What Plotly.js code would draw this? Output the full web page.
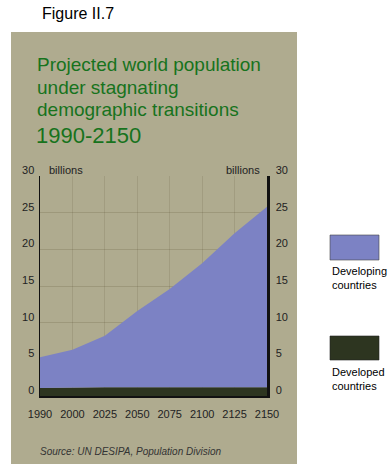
<!DOCTYPE html>
<html>
<head>
<meta charset="utf-8">
<script src="https://cdn.plot.ly/plotly-3.0.1.min.js"></script>
<style>html,body{margin:0;padding:0;background:#fff;}#chart{width:391px;height:473px;}</style>
</head>
<body>
<div id="chart"></div>
<script>
// ---- data ----
const years = ['1990', '2000', '2025', '2050', '2075', '2100', '2125', '2150'];
const developed = [1.1, 1.2, 1.2, 1.2, 1.2, 1.2, 1.2, 1.2];           // billions
const developing = [4.2, 5.1, 7.0, 10.4, 13.4, 16.9, 21.0, 24.6];     // billions
const yTicks = [0, 5, 10, 15, 20, 25, 30];
const seriesNames = ['Developing<br>countries', 'Developed<br>countries'];
const titleLines = ['Projected world population', 'under stagnating', 'demographic transitions'];
const titleYears = '1990-2150';

// ---- layout helpers ----
const W = 391, H = 473;
const L = 40, R = 267, T = 176, B = 396;
const px = x => (x - L) / (R - L);
const py = y => (B - y) / (B - T);

const FONT = 'Liberation Sans, Arial, Helvetica, sans-serif';
const PANEL = '#afab8f';
const BLUE = '#7c82c4';
const DARK = '#2d3520';
const GREEN = '#17731d';

const traces = [
  { x: years, y: developed, type: 'scatter', mode: 'lines', stackgroup: 'pop',
    line: { width: 0 }, fillcolor: DARK, name: 'Developed countries', hoverinfo: 'skip' },
  { x: years, y: developing, type: 'scatter', mode: 'lines', stackgroup: 'pop',
    line: { width: 0 }, fillcolor: BLUE, name: 'Developing countries', hoverinfo: 'skip' },
  { x: years, y: developed, type: 'scatter', mode: 'lines', yaxis: 'y2',
    line: { width: 0 }, opacity: 0, hoverinfo: 'skip', showlegend: false }
];

const tickFont = { family: FONT, size: 11, color: '#222' };

const annotations = [
  { text: 'Figure II.7', x: px(40), y: py(13), xanchor: 'left', yanchor: 'middle',
    font: { family: FONT, size: 16, color: '#000' } },
  { text: titleLines[0], x: px(35), y: py(65), xanchor: 'left', yanchor: 'middle',
    font: { family: FONT, size: 19, color: GREEN } },
  { text: titleLines[1], x: px(35), y: py(87), xanchor: 'left', yanchor: 'middle',
    font: { family: FONT, size: 19, color: GREEN } },
  { text: titleLines[2], x: px(35), y: py(109), xanchor: 'left', yanchor: 'middle',
    font: { family: FONT, size: 19, color: GREEN } },
  { text: titleYears, x: px(34), y: py(135), xanchor: 'left', yanchor: 'middle',
    font: { family: FONT, size: 22, color: GREEN } },
  { text: 'billions', x: px(47), y: py(170), xanchor: 'left', yanchor: 'middle',
    font: tickFont },
  { text: 'billions', x: px(262), y: py(170), xanchor: 'right', yanchor: 'middle',
    font: tickFont },
  { text: seriesNames[0], x: px(330), y: py(263), xanchor: 'left', yanchor: 'top', align: 'left',
    font: { family: FONT, size: 11, color: '#000' } },
  { text: seriesNames[1], x: px(330), y: py(364), xanchor: 'left', yanchor: 'top', align: 'left',
    font: { family: FONT, size: 11, color: '#000' } },
  { text: '<i>Source: UN DESIPA, Population Division</i>', x: px(38), y: py(452), xanchor: 'left', yanchor: 'middle',
    font: { family: FONT, size: 10, color: '#333' } }
].map(a => Object.assign({ xref: 'paper', yref: 'paper', showarrow: false }, a));

const shapes = [
  { type: 'rect', xref: 'paper', yref: 'paper', layer: 'below',
    x0: px(11), x1: px(297), y0: py(464), y1: py(32),
    fillcolor: PANEL, line: { width: 0 } },
  { type: 'rect', xref: 'paper', yref: 'paper',
    x0: px(330), x1: px(379), y0: py(260), y1: py(235),
    fillcolor: BLUE, line: { width: 0.6, color: '#444' } },
  { type: 'rect', xref: 'paper', yref: 'paper',
    x0: px(330), x1: px(379), y0: py(360), y1: py(336),
    fillcolor: DARK, line: { width: 0.6, color: '#222' } }
];

const layout = {
  width: W, height: H,
  margin: { l: L, r: W - R, t: T, b: H - B, pad: 0 },
  paper_bgcolor: '#ffffff',
  plot_bgcolor: 'rgba(0,0,0,0)',
  showlegend: false,
  font: { family: FONT },
  xaxis: {
    type: 'category', range: [0, years.length - 1],
    showgrid: true, gridcolor: 'rgba(70,60,30,0.13)', gridwidth: 1,
    showline: true, linecolor: '#111', linewidth: 1.5,
    ticks: '', tickfont: tickFont, ticklabelstandoff: 7, fixedrange: true
  },
  yaxis: {
    range: [0, 30], tickvals: yTicks, ticks: '',
    showgrid: true, gridcolor: 'rgba(70,60,30,0.17)', gridwidth: 1, zeroline: false,
    showline: true, linecolor: '#111', linewidth: 1.5,
    tickfont: tickFont, ticklabelshift: -6, ticklabelstandoff: 2, fixedrange: true
  },
  yaxis2: {
    overlaying: 'y', side: 'right', range: [0, 30], tickvals: yTicks, ticks: '',
    showgrid: false, zeroline: false,
    showline: true, linecolor: '#111', linewidth: 2.5,
    tickfont: tickFont, ticklabelshift: -6, ticklabelstandoff: 4, fixedrange: true
  },
  annotations: annotations,
  shapes: shapes
};

Plotly.newPlot('chart', traces, layout, { displayModeBar: false, staticPlot: true });
</script>
</body>
</html>
